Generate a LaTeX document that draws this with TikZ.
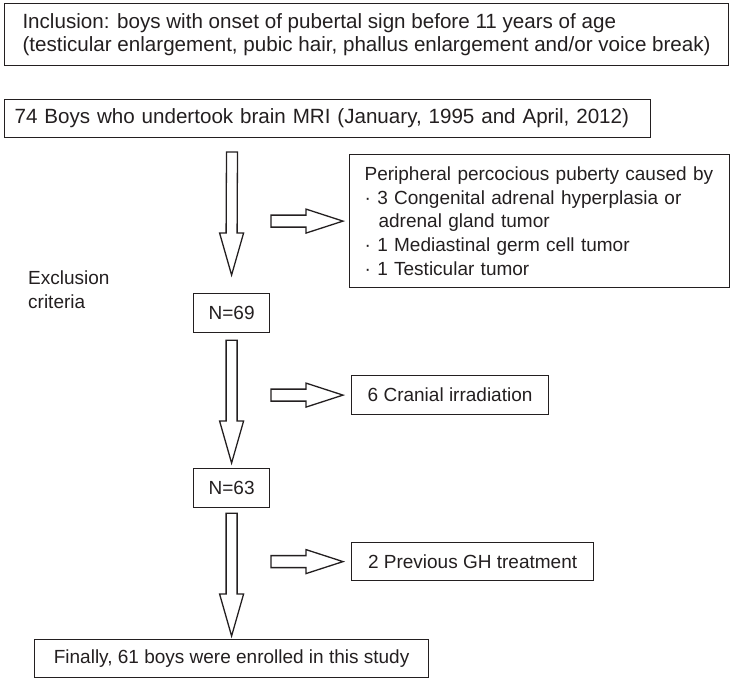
\documentclass[tikz,border=0pt]{standalone}
\usepackage{fontspec}
\setmainfont{Liberation Sans}
\usetikzlibrary{calc}
\definecolor{flowgray}{RGB}{35,31,32}

\tikzset{
  flowbox/.style={draw=flowgray, line width=1.2pt, text=flowgray, inner sep=0pt,
    font=\fontsize{19pt}{23.6pt}\selectfont},
  topbox/.style={flowbox, anchor=north west, align=left, font=\fontsize{20.6pt}{23pt}\selectfont},
  blockarrow/.style={draw=flowgray, line width=1.3pt, fill=white, line join=miter},
}

% hollow block arrows between two named points
\newcommand{\blockdown}[2]{%
  \draw[blockarrow] ([xshift=-5.5pt]#1) -- ([shift={(-5.5pt,42pt)}]#2) -- ([shift={(-12pt,42pt)}]#2)
    -- (#2) -- ([shift={(12pt,42pt)}]#2) -- ([shift={(5.5pt,42pt)}]#2) -- ([xshift=5.5pt]#1) -- cycle;}
\newcommand{\blockright}[2]{%
  \draw[blockarrow] ([yshift=6pt]#1) -- ([shift={(-37pt,6pt)}]#2) -- ([shift={(-37pt,12pt)}]#2)
    -- (#2) -- ([shift={(-37pt,-12pt)}]#2) -- ([shift={(-37pt,-6pt)}]#2) -- ([yshift=-6pt]#1) -- cycle;}

\begin{document}
\begin{tikzpicture}[x=1pt, y=-1pt]
  \useasboundingbox (0,0) rectangle (736,683);

  \node[topbox, minimum width=724pt, minimum height=62pt] (inclusion) at (4,3)
    {Inclusion: boys with onset of pubertal sign before 11 years of age\\(testicular enlargement, pubic hair, phallus enlargement and/or voice break)};
  \node[topbox, minimum width=646pt, minimum height=38pt, text width=626pt] (mri) at (4,99)
    {74 Boys who undertook brain MRI (January, 1995 and April, 2012)};

  \node[flowbox, anchor=north west, minimum width=380pt, minimum height=133pt, text width=350pt, align=left] (peripheral) at (349,154)
    {Peripheral percocious puberty caused by\\· 3 Congenital adrenal hyperplasia or\\\hspace*{14pt}adrenal gland tumor\\· 1 Mediastinal germ cell tumor\\· 1 Testicular tumor};
  \node[anchor=north west, text=flowgray, inner sep=0pt, align=left, font=\fontsize{19pt}{23.6pt}\selectfont] (exclusion) at (28,271)
    {Exclusion\\criteria};

  \node[flowbox, anchor=north west, minimum width=76pt, minimum height=39pt] (n69) at (193,293) {N=69};
  \node[flowbox, anchor=north west, minimum width=197pt, minimum height=39pt] (cranial) at (351,375) {6 Cranial irradiation};
  \node[flowbox, anchor=north west, minimum width=76pt, minimum height=39pt] (n63) at (193,468) {N=63};
  \node[flowbox, anchor=north west, minimum width=242pt, minimum height=38pt] (ghtreat) at (351,542) {2 Previous GH treatment};
  \node[flowbox, anchor=north west, minimum width=394pt, minimum height=38pt] (final) at (34,639) {Finally, 61 boys were enrolled in this study};

  \coordinate (col) at (232,0);
  \coordinate (d1top) at (232,152);
  \coordinate (d1tip) at ([yshift=18pt]n69.north);
  \coordinate (d2top) at ([yshift=-7pt]n69.south);
  \coordinate (d2tip) at ([yshift=5pt]n63.north);
  \coordinate (d3top) at ([yshift=-5pt]n63.south);
  \coordinate (d3tip) at ([yshift=3pt]final.north -| n63.south);
  \coordinate (r1from) at ([xshift=39pt]peripheral.west -| col);
  \coordinate (r1tip) at ([xshift=-6pt]peripheral.west);
  \coordinate (r2from) at ([xshift=39pt]cranial.west -| col);
  \coordinate (r2tip) at ([xshift=-8pt]cranial.west);
  \coordinate (r3from) at ([xshift=39pt]ghtreat.west -| col);
  \coordinate (r3tip) at ([xshift=-8pt]ghtreat.west);

  \blockdown{d1top}{d1tip}
  \blockdown{d2top}{d2tip}
  \blockdown{d3top}{d3tip}
  \blockright{r1from}{r1tip}
  \blockright{r2from}{r2tip}
  \blockright{r3from}{r3tip}
\end{tikzpicture}
\end{document}
